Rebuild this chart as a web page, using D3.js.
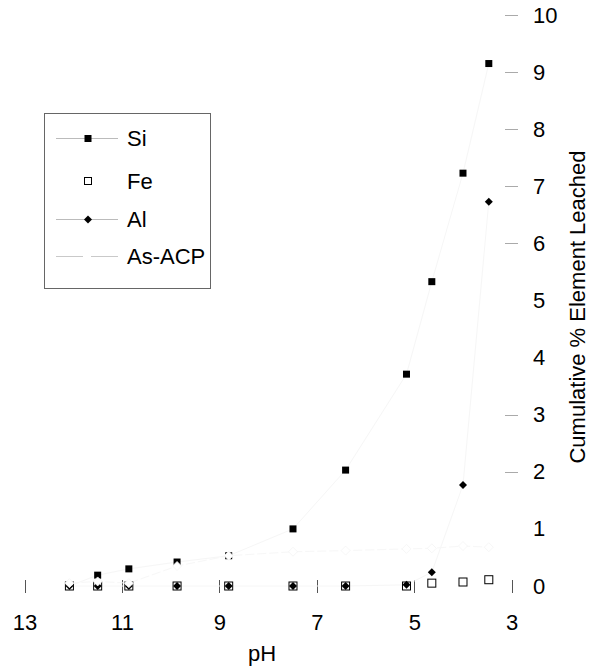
<!DOCTYPE html>
<html>
<head>
<meta charset="utf-8">
<script src="https://cdn.jsdelivr.net/npm/d3@7"></script>
<style>
  html, body { margin: 0; padding: 0; background: #fff; }
  svg { display: block; font-family: "Liberation Sans", Arial, sans-serif; }
</style>
</head>
<body>
<svg id="chart" width="595" height="668"></svg>
<script>
// ---- data ----
const pH      = [12.08, 11.5, 10.86, 9.87, 8.81, 7.49, 6.41, 5.16, 4.64, 4.0, 3.47];
const si      = [0, 0.19, 0.30, 0.42, 0.53, 1.00, 2.03, 3.71, 5.33, 7.23, 9.15];
const fe      = [0, 0, 0, 0, 0, 0, 0, 0, 0.05, 0.07, 0.11];
const al      = [0, 0, 0, 0, 0, 0, 0, 0.02, 0.24, 1.77, 6.73];
const asAcp   = [0.05, 0.08, 0.05, 0.35, 0.53, 0.60, 0.62, 0.65, 0.66, 0.70, 0.68];
const xTicks  = [13, 11, 9, 7, 5, 3];
const yTicks  = [0, 1, 2, 3, 4, 5, 6, 7, 8, 9, 10];
const yTickMarks = [2, 3, 6, 7, 8, 9, 10];
const seriesNames = ["Si", "Fe", "Al", "As-ACP"];
const xTitle = "pH";
const yTitle = "Cumulative % Element Leached";

const svg = d3.select("#chart");
const x = d3.scaleLinear().domain([13, 3]).range([24.6, 511.7]);
const y = d3.scaleLinear().domain([0, 10]).range([586, 15]);
const FS = 22;

// ---- x axis (cross ticks, no domain line) ----
const xAxis = svg.append("g")
  .attr("transform", "translate(0,580)")
  .call(d3.axisBottom(x).tickValues(xTicks).tickSize(13).tickPadding(21).tickFormat(d3.format("d")));
xAxis.select(".domain").remove();
xAxis.selectAll(".tick line").attr("stroke", "#555").attr("shape-rendering", "crispEdges");
xAxis.selectAll(".tick text").attr("font-size", FS).attr("fill", "#000")
  .attr("font-family", "Liberation Sans, Arial, sans-serif");

// ---- y axis (labels right, ticks centered on pH 3) ----
const yAxis = svg.append("g")
  .attr("transform", "translate(505,0)")
  .call(d3.axisRight(y).tickValues(yTicks).tickSize(13).tickPadding(15).tickFormat(d3.format("d")));
yAxis.select(".domain").remove();
yAxis.selectAll(".tick line")
  .attr("stroke", "#aaa")
  .attr("shape-rendering", "crispEdges")
  .attr("display", d => yTickMarks.includes(d) ? null : "none");
yAxis.selectAll(".tick text").attr("font-size", FS).attr("fill", "#000")
  .attr("font-family", "Liberation Sans, Arial, sans-serif");

// ---- titles ----
svg.append("text").attr("x", 262).attr("y", 661).attr("text-anchor", "middle")
  .attr("font-size", FS).text(xTitle);
svg.append("text")
  .attr("transform", "translate(585,307) rotate(-90)")
  .attr("text-anchor", "middle").attr("font-size", FS).text(yTitle);

// ---- series ----
const pts = arr => arr.map((v, i) => [pH[i], v]);
const line = d3.line().x(d => x(d[0])).y(d => y(d[1]));

svg.append("path").datum(pts(si)).attr("d", line)
  .attr("fill", "none").attr("stroke", "#f6f6f6").attr("stroke-width", 1);
svg.append("path").datum(pts(al)).attr("d", line)
  .attr("fill", "none").attr("stroke", "#f6f6f6").attr("stroke-width", 1);
svg.append("path").datum(pts(asAcp)).attr("d", line)
  .attr("fill", "none").attr("stroke", "#f7f7f7").attr("stroke-width", 1)
  .attr("stroke-dasharray", "9,3");

const dia = s => `M0,${-s}L${s},0L0,${s}L${-s},0Z`;

// Si filled squares
svg.append("g").selectAll("rect").data(pts(si)).join("rect")
  .attr("x", d => x(d[0]) - 3.5).attr("y", d => y(d[1]) - 3.5)
  .attr("width", 7).attr("height", 7).attr("fill", "#000");

// Fe open squares
svg.append("g").selectAll("rect").data(pts(fe)).join("rect")
  .attr("x", d => x(d[0]) - 4).attr("y", d => y(d[1]) - 4)
  .attr("width", 8).attr("height", 8)
  .attr("fill", "#fff").attr("stroke", "#000").attr("stroke-width", 1);

// Al filled diamonds
svg.append("g").selectAll("path").data(pts(al)).join("path")
  .attr("transform", d => `translate(${x(d[0])},${y(d[1])})`)
  .attr("d", dia(4)).attr("fill", "#000");

// As-ACP white diamonds
svg.append("g").selectAll("path").data(pts(asAcp)).join("path")
  .attr("transform", d => `translate(${x(d[0])},${y(d[1])})`)
  .attr("d", dia(4.5)).attr("fill", "#fff").attr("stroke", "#f4f4f4").attr("stroke-width", 0.8);

// ---- legend ----
const lg = svg.append("g");
lg.append("rect").attr("x", 44.5).attr("y", 113.5).attr("width", 166).attr("height", 175)
  .attr("fill", "#fff").attr("stroke", "#666").attr("stroke-width", 1);
const rowsY = [138, 181, 219, 256];
const lx1 = 56, lx2 = 118, mx = 88, tx = 127;
seriesNames.forEach((name, i) => {
  const cy = rowsY[i];
  if (name === "Si" || name === "Al") {
    lg.append("line").attr("x1", lx1).attr("x2", lx2).attr("y1", cy + 0.5).attr("y2", cy + 0.5)
      .attr("stroke", "#aaa").attr("stroke-width", 0.8);
  }
  if (name === "As-ACP") {
    lg.append("line").attr("x1", lx1).attr("x2", lx2).attr("y1", cy + 0.5).attr("y2", cy + 0.5)
      .attr("stroke", "#bbb").attr("stroke-width", 0.8).attr("stroke-dasharray", "27,8");
  }
  if (name === "Si") {
    lg.append("rect").attr("x", mx - 3.5).attr("y", cy - 3).attr("width", 7).attr("height", 7).attr("fill", "#000");
  } else if (name === "Fe") {
    lg.append("rect").attr("x", mx - 3.5).attr("y", cy - 3.5).attr("width", 7).attr("height", 7)
      .attr("fill", "#fff").attr("stroke", "#000").attr("stroke-width", 1);
  } else if (name === "Al") {
    lg.append("path").attr("transform", `translate(${mx},${cy + 0.5})`).attr("d", dia(4)).attr("fill", "#000");
  }
  lg.append("text").attr("x", tx).attr("y", cy).attr("dy", "0.36em")
    .attr("font-size", FS).text(name);
});
</script>
</body>
</html>
